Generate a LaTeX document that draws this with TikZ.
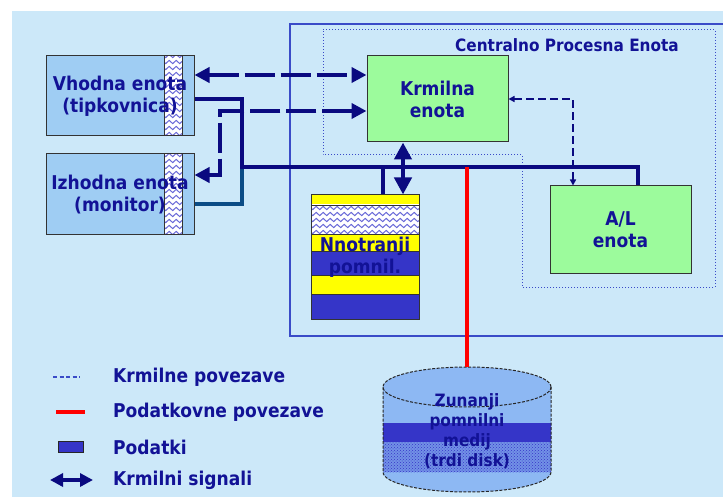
\documentclass[tikz,border=0pt]{standalone}
\usepackage{fontspec}
\setmainfont{DejaVu Sans}[FakeStretch=0.9]
\usepackage{tikz}
\usetikzlibrary{positioning,arrows.meta,decorations.pathmorphing,patterns}
\definecolor{bgblue}{HTML}{CCE8F9}
\definecolor{txtblue}{HTML}{121296}
\definecolor{unitblue}{HTML}{9FCDF3}
\definecolor{cugreen}{HTML}{9CFB9C}
\definecolor{navy}{HTML}{0A0A80}
\definecolor{tealbus}{HTML}{0B4C86}
\definecolor{memyel}{HTML}{FFFF00}
\definecolor{memblue}{HTML}{3535C8}
\definecolor{waveblue}{HTML}{6A6AD8}
\definecolor{diskblue}{HTML}{8DB8F3}
\definecolor{cpuline}{HTML}{3A4BC8}
\newcommand\lblfont{\fontsize{19}{22}\selectfont\bfseries}
\newcommand\cpufont{\fontsize{17}{20}\selectfont\bfseries}
\newcommand\diskfont{\fontsize{17}{20}\selectfont\bfseries}
\tikzset{
  unit/.style={draw=black!80,line width=1pt,fill=unitblue,minimum width=148pt,minimum height=80pt,inner sep=0pt,align=center,text=txtblue,font=\lblfont},
  cu/.style={draw=black!80,line width=1pt,fill=cugreen,minimum width=141pt,minimum height=86pt,inner sep=0pt,align=center,text=txtblue,font=\lblfont},
  memstack/.style={draw=black!80,line width=1pt,minimum width=108pt,minimum height=124pt,inner sep=0pt,align=center,text=txtblue,font=\lblfont},
  wave/.style={draw=waveblue,line width=1pt,decorate,decoration={snake,segment length=7pt,amplitude=1.6pt}},
  strip/.style={path picture={
    \begin{scope}
    \clip ([xshift=118pt]path picture bounding box.south west) rectangle ([xshift=-12pt]path picture bounding box.north east);
    \fill[white] (path picture bounding box.south west) rectangle (path picture bounding box.north east);
    \foreach \k in {0,...,13} \draw[wave] ([xshift=114pt,yshift=\k*6pt+2pt]path picture bounding box.south west) -- ++(26pt,0);
    \end{scope}
    \draw[black!80,line width=1pt] ([xshift=118pt]path picture bounding box.south west) -- ([xshift=118pt]path picture bounding box.north west);
    \draw[black!80,line width=1pt] ([xshift=-12pt]path picture bounding box.south east) -- ([xshift=-12pt]path picture bounding box.north east);
  }},
  sig/.style={line width=4.5pt,draw=navy,{Triangle[length=15pt,width=15pt]}-{Triangle[length=15pt,width=15pt]}},
  sigdash/.style={sig,dash pattern=on 30pt off 6pt},
  ctrl/.style={line width=1.6pt,draw=navy,dash pattern=on 8pt off 4pt,{Triangle[length=6pt,width=6pt]}-{Triangle[length=6pt,width=6pt]}},
  bus/.style={line width=4.5pt,draw=navy},
  data/.style={line width=4pt,draw=red},
  diskline/.style={draw=black!85,line width=1pt,dash pattern=on 3pt off 1.5pt},
  legtxt/.style={anchor=west,inner sep=0pt,text=txtblue,font=\lblfont}
}
\begin{document}
\begin{tikzpicture}[x=1pt,y=-1pt]
\useasboundingbox (0,0) rectangle (723,497);
\clip (0,0) rectangle (723,497);
\fill[bgblue] (12,11) rectangle (723,497);

\draw[cpuline,line width=1.5pt] (290,24) rectangle (740,336);
\draw[cpuline,line width=1pt,dotted] (323,30) -- (715,30) -- (715,287) -- (522,287) -- (522,155) -- (323,155) -- cycle;
\node[font=\cpufont,text=txtblue] (cpu) at (567,45) {Centralno Procesna Enota};

\node[unit,strip] (vhod) at (120,96) {Vhodna enota\\(tipkovnica)};
\node[unit,strip,minimum height=81pt] (izhod) at (120,194.5) {Izhodna enota\\(monitor)};
\node[cu] (krm) at (437.5,99) {Krmilna\\enota};
\node[cu,minimum height=87pt] (alu) at (620.5,229.5) {A/L\\enota};
\node[memstack,path picture={
  \foreach \a/\b/\c in {0/10/memyel,39/56/memyel,56/80/memblue,80/99/memyel,99/124/memblue}
    \fill[\c] ([yshift=-\a pt]path picture bounding box.north west) rectangle ([yshift=-\b pt]path picture bounding box.north east);
  \begin{scope}
  \clip ([yshift=-10pt]path picture bounding box.north west) rectangle ([yshift=-39pt]path picture bounding box.north east);
  \fill[white] (path picture bounding box.south west) rectangle (path picture bounding box.north east);
  \foreach \k in {0,...,4} \draw[wave] ([xshift=-4pt,yshift=-\k*6pt-13pt]path picture bounding box.north west) -- ++(116pt,0);
  \end{scope}
  \foreach \b in {10,39,56,80,99}
    \draw[black!80,line width=0.8pt] ([yshift=-\b pt]path picture bounding box.north west) -- ([yshift=-\b pt]path picture bounding box.north east);
}] (mem) at (365,257) {Nnotranji\\pomnil.};

\coordinate (busL) at (242,167);
\coordinate (busR) at (638,167);
\coordinate (memtap) at (383,167);
\coordinate (redtap) at (467,167);
\coordinate (bend) at (220,175);
\coordinate (disktop) at (467,367);

\begin{scope}
\clip (383,387) -- (383,472) arc[start angle=180,end angle=360,x radius=84pt,y radius=20pt] -- (551,387) arc[start angle=0,end angle=180,x radius=84pt,y radius=20pt] -- cycle;
\fill[diskblue] (380,360) rectangle (555,495);
\fill[memblue] (380,423) rectangle (555,442);
\fill[diskblue!70!memblue] (380,442) rectangle (555,472);
\fill[pattern=crosshatch dots,pattern color=memblue] (380,442) rectangle (555,472);
\end{scope}
\draw[diskline] (383,387) -- (383,472) arc[start angle=180,end angle=360,x radius=84pt,y radius=20pt] -- (551,387);
\draw[diskline] (467,387) ellipse[x radius=84pt,y radius=20pt];
\node[font=\diskfont,text=txtblue,align=center] (disk) at (467,431) {Zunanji\\pomnilni\\medij\\(trdi disk)};

\draw[bus,tealbus] ([yshift=-9.5pt]izhod.east) -| (busL);
\draw[bus] ([yshift=-3pt]vhod.east) -| (busL) -- (busR) -- (alu.north -| busR);
\draw[bus] (memtap) -- (memtap |- mem.north);
\draw[data] (redtap) -- (disktop);
\draw[sig,{Triangle[length=17pt,width=17pt]}-{Triangle[length=17pt,width=17pt]}] ([xshift=-34.5pt]krm.south) -- ([xshift=-34.5pt]krm.south |- mem.north);
\draw[sigdash] ([yshift=21pt]vhod.east) -- ([yshift=24pt]krm.west);
\draw[sigdash] ([yshift=-12pt]krm.west) -| (bend) -- ([yshift=19.5pt]izhod.east);
\draw[ctrl] (krm.east) -| ([xshift=-47.5pt]alu.north);

\node[legtxt] (leg1) at (113,377) {Krmilne povezave};
\node[legtxt] (leg2) at (113,412) {Podatkovne povezave};
\node[legtxt] (leg3) at (113,447) {Podatki};
\node[legtxt] (leg4) at (113,480) {Krmilni signali};
\draw[cpuline,line width=1.5pt,dash pattern=on 4pt off 2.5pt] ([xshift=-60pt]leg1.west) -- ([xshift=-33pt]leg1.west);
\draw[data] ([xshift=-57pt]leg2.west) -- ([xshift=-28pt]leg2.west);
\draw[black!85,fill=memblue,line width=1pt] ([xshift=-55pt,yshift=5.5pt]leg3.west) rectangle ([xshift=-30pt,yshift=-5.5pt]leg3.west);
\draw[sig,{Triangle[length=13pt,width=13pt]}-{Triangle[length=13pt,width=13pt]}] ([xshift=-63pt]leg4.west) -- ([xshift=-20pt]leg4.west);
\end{tikzpicture}
\end{document}
